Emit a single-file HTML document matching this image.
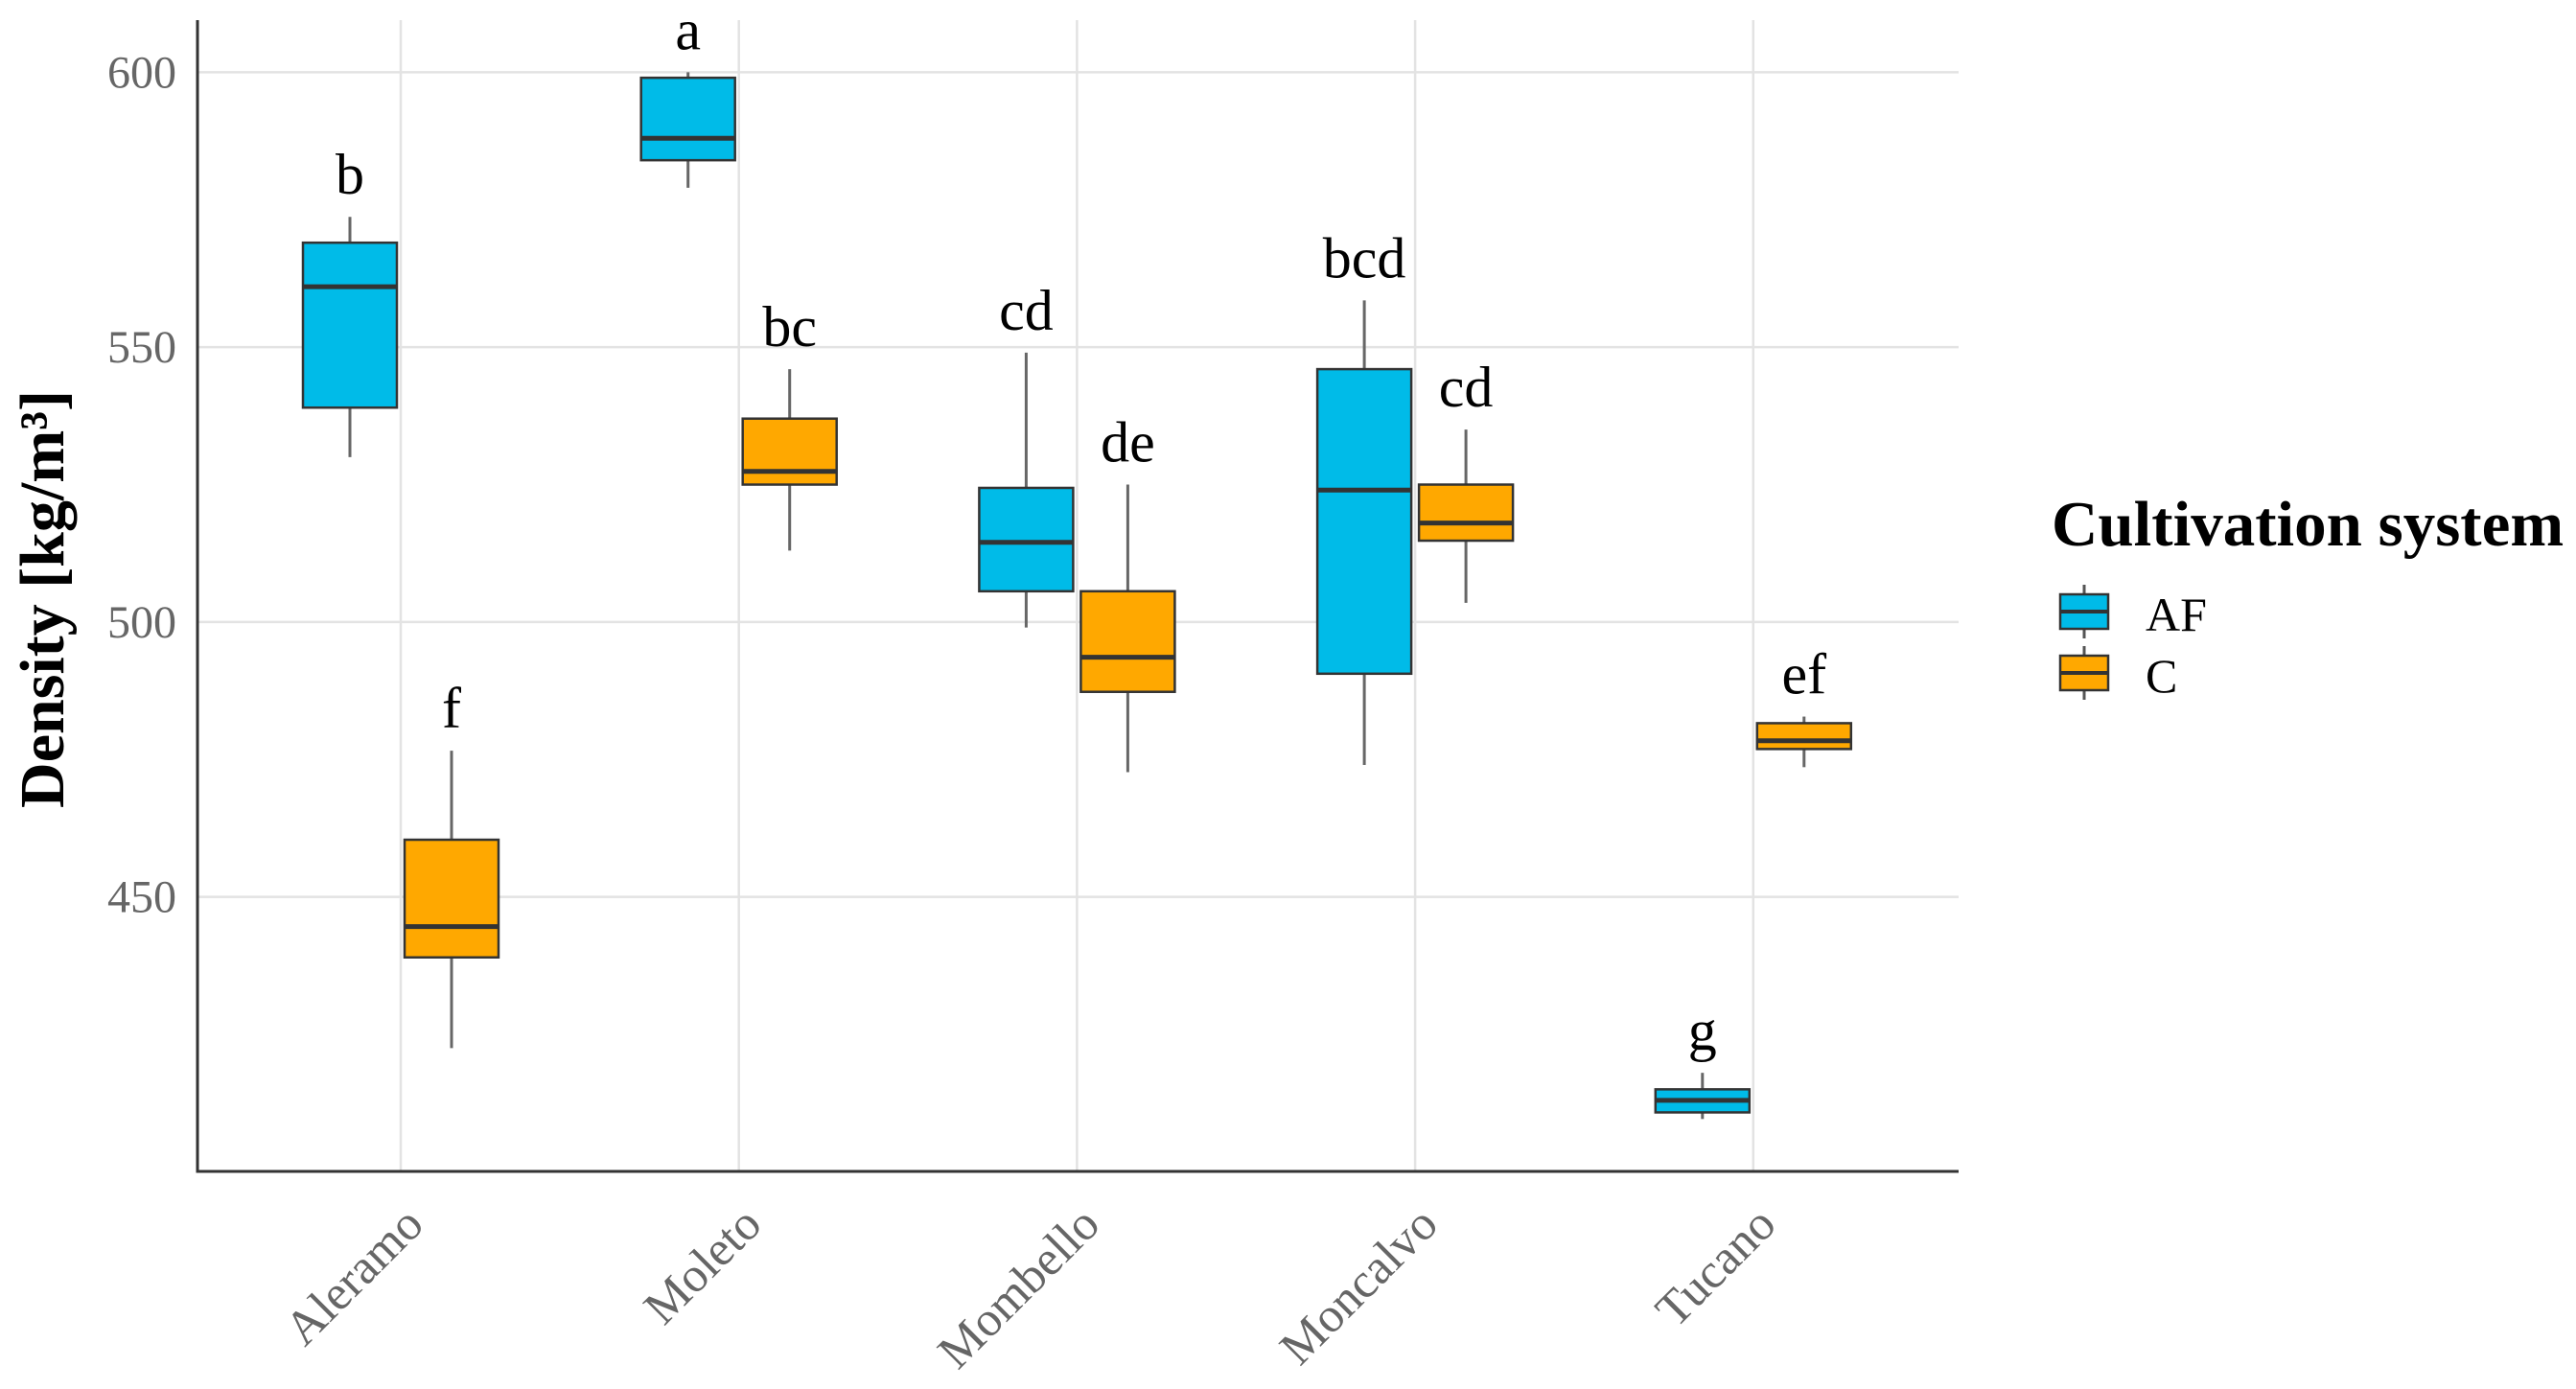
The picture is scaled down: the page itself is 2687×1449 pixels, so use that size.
<!DOCTYPE html>
<html><head><meta charset="utf-8"><style>
html,body{margin:0;padding:0;background:#fff;}
svg{display:block;}
text{font-family:"Liberation Serif",serif;}
</style></head><body>
<svg id="chart" width="2687" height="1449" viewBox="0 0 2687 1449" xmlns="http://www.w3.org/2000/svg">
<g id="grid"></g>
<g id="boxes"></g>
<g id="axes"></g>
<text transform="translate(66,625) rotate(-90)" text-anchor="middle" font-size="66" font-weight="bold" fill="#000">Density [kg/m³]</text>
<g>
<text x="2140" y="569" font-size="67" font-weight="bold" fill="#000">Cultivation system</text>
<g>
<line x1="2174" y1="610" x2="2174" y2="666" stroke="#555" stroke-width="3"/>
<rect x="2149" y="620" width="50" height="36" fill="#00bbe8" stroke="#333" stroke-width="2.5"/>
<line x1="2149" y1="638" x2="2199" y2="638" stroke="#333" stroke-width="4"/>
<text x="2238" y="658" font-size="50" fill="#000">AF</text>
</g>
<g>
<line x1="2174" y1="674" x2="2174" y2="730" stroke="#555" stroke-width="3"/>
<rect x="2149" y="684" width="50" height="36" fill="#ffa800" stroke="#333" stroke-width="2.5"/>
<line x1="2149" y1="702" x2="2199" y2="702" stroke="#333" stroke-width="4"/>
<text x="2238" y="722" font-size="50" fill="#000">C</text>
</g>
</g>
</svg>
<script>
const categories = ["Aleramo","Moleto","Mombello","Moncalvo","Tucano"];
const afLow = [530,579,499,474,409.6];
const afQ1 = [539,584,505.6,490.6,410.8];
const afMed = [561,588,514.5,524,413];
const afQ3 = [569,599,524.4,546,415];
const afHigh = [573.7,600,549,558.5,418];
const afLetters = ["b","a","cd","bcd","g"];
const cLow = [422.5,513,472.7,503.5,473.6];
const cQ1 = [439,525,487.3,514.8,476.9];
const cMed = [444.6,527.4,493.6,518,478.4];
const cQ3 = [460.4,537,505.6,525,481.6];
const cHigh = [476.6,546,525,535,482.8];
const cLetters = ["f","bc","de","cd","ef"];
const yTicks = [450,500,550,600];

const NS="http://www.w3.org/2000/svg";
const X0=206, X1=2043, YT=21, YB=1222;
function y(v){return 75.4+(600-v)*5.735;}
function x(i){return 418+i*352.7;}
function mk(tag,attrs,parent){const e=document.createElementNS(NS,tag);for(const k in attrs)e.setAttribute(k,attrs[k]);parent.appendChild(e);return e;}
const grid=document.getElementById('grid'), boxes=document.getElementById('boxes'), axes=document.getElementById('axes');

yTicks.forEach(t=>{
  const l=mk('line',{x1:X0,x2:X1,y1:y(t),y2:y(t),stroke:'#e3e3e3','stroke-width':2.5},grid);
  
  
  const tx=mk('text',{x:X0-22,y:y(t)+16,'text-anchor':'end','font-size':48,fill:'#666'},axes);
  tx.textContent=t;
  
  
});
categories.forEach((c,i)=>{
  const l=mk('line',{x1:x(i),x2:x(i),y1:YT,y2:YB,stroke:'#e3e3e3','stroke-width':2.5},grid);
  
  
  const tx=mk('text',{'text-anchor':'end','font-size':51,fill:'#666',transform:`translate(${x(i)+26},${YB+58}) rotate(-45)`},axes);
  tx.textContent=c;
  
  
});
const ax=mk('path',{d:`M${X0} ${YT} V${YB} H${X1}`,fill:'none',stroke:'#333','stroke-width':3},axes);



function drawBox(cx,lo,q1,md,q3,hi,letter,fill,name){
  const g=mk('g',{},boxes);
  
  
  const w=98;
  mk('line',{x1:cx,x2:cx,y1:y(hi),y2:y(lo),stroke:'#666','stroke-width':3},g);
  mk('rect',{x:cx-w/2,y:y(q3),width:w,height:y(q1)-y(q3),fill:fill,stroke:'#333','stroke-width':2.5},g);
  mk('line',{x1:cx-w/2,x2:cx+w/2,y1:y(md),y2:y(md),stroke:'#333','stroke-width':5},g);
  const t=mk('text',{x:cx,y:y(hi)-24,'text-anchor':'middle','font-size':60,fill:'#000'},g);
  t.textContent=letter;
  
  
}
categories.forEach((c,i)=>{
  drawBox(x(i)-53,afLow[i],afQ1[i],afMed[i],afQ3[i],afHigh[i],afLetters[i],'#00bbe8','box-af-'+c.toLowerCase());
  drawBox(x(i)+53,cLow[i],cQ1[i],cMed[i],cQ3[i],cHigh[i],cLetters[i],'#ffa800','box-c-'+c.toLowerCase());
});
</script>
</body></html>
